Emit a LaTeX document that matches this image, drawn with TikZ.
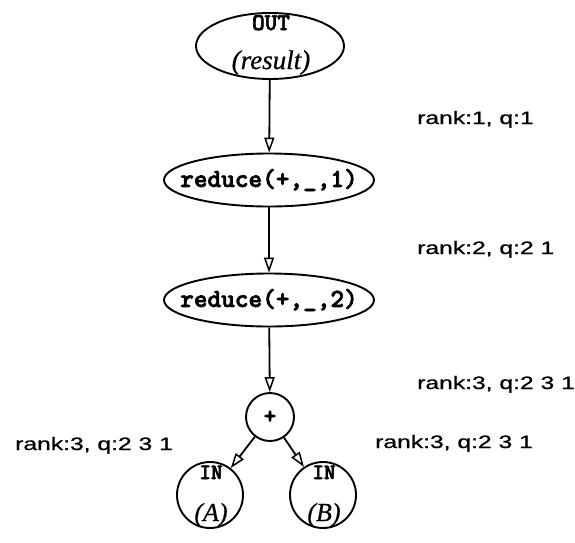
\documentclass[tikz,border=0pt]{standalone}
\usepackage{fontspec}
\usepackage{graphicx}
\setmainfont{Liberation Serif}
\newfontfamily\codefont{lmmonolt10-bold.otf}[FakeBold=2.5]
\newfontfamily\tagfont{Liberation Sans}[FakeBold=0.8]
\newfontfamily\notefont{Liberation Serif Italic}[FakeBold=0.6]
\usetikzlibrary{shapes.geometric,arrows.meta}

% wide sans-serif annotation text
\newcommand\widetag[1]{\scalebox{1.37}[1]{#1}}

\tikzset{
  outline/.style={draw, line width=1.9pt, inner sep=0pt, fill=white},
  oval/.style={outline, ellipse},
  disc/.style={outline, circle},
  optext/.style={inner sep=0pt, font=\codefont\fontsize{26}{26}\selectfont},
  tagname/.style={inner sep=0pt, anchor=base, font=\codefont\fontsize{24}{24}\selectfont},
  argname/.style={inner sep=0pt, anchor=base, font=\notefont\fontsize{27}{27}\selectfont},
  flow/.style={line width=1.8pt, -{Triangle[open, length=15pt, width=10pt, line width=1.5pt]}},
  rankinfo/.style={inner sep=0pt, anchor=base west, font=\tagfont\fontsize{18}{18}\selectfont},
}

\begin{document}
\begin{tikzpicture}[x=1pt, y=-1pt]
  \useasboundingbox (0,0) rectangle (575,542);

  % graph nodes
  \node[oval, minimum width=148pt, minimum height=66pt] (out) at (270,46) {};
  \node[tagname] (outname) at (271,30) {OUT};
  \node[argname] (outarg) at (271,69) {(result)};

  \node[oval, minimum width=210pt, minimum height=53pt] (red1) at (269,180) {};
  \node[optext] (red1text) at (red1.center) {reduce(+,\_,1)};

  \node[oval, minimum width=210pt, minimum height=53pt] (red2) at (269,300) {};
  \node[optext] (red2text) at (red2.center) {reduce(+,\_,2)};

  \node[disc, minimum size=48pt] (plus) at (270,417) {};
  \node[inner sep=0pt, font=\codefont\fontsize{24}{24}\selectfont] (plustext) at (plus.center) {+};

  \node[disc, minimum size=66pt] (ina) at (210,495) {};
  \node[tagname, font=\codefont\fontsize{22}{22}\selectfont] (inaname) at (211,479) {IN};
  \node[argname, font=\notefont\fontsize{26}{26}\selectfont] (inaarg) at (211,521) {(A)};

  \node[disc, minimum size=66pt] (inb) at (323,495) {};
  \node[tagname, font=\codefont\fontsize{22}{22}\selectfont] (inbname) at (324,479) {IN};
  \node[argname, font=\notefont\fontsize{26}{26}\selectfont] (inbarg) at (324,521) {(B)};

  % data-flow edges
  \draw[flow] (out) -- (red1);
  \draw[flow] (red1) -- (red2);
  \draw[flow] (red2) -- (plus);
  \draw[flow] (plus) -- (ina);
  \draw[flow] (plus) -- (inb);

  % rank and queue annotations
  \node[rankinfo] (rank1) at (417,124) {\widetag{rank:1, q:1}};
  \node[rankinfo] (rank2) at (417,254) {\widetag{rank:2, q:2 1}};
  \node[rankinfo] (rank3) at (417,389) {\widetag{rank:3, q:2 3 1}};
  \node[rankinfo] (rankl) at (15,450) {\widetag{rank:3, q:2 3 1}};
  \node[rankinfo] (rankr) at (375,448) {\widetag{rank:3, q:2 3 1}};
\end{tikzpicture}
\end{document}
